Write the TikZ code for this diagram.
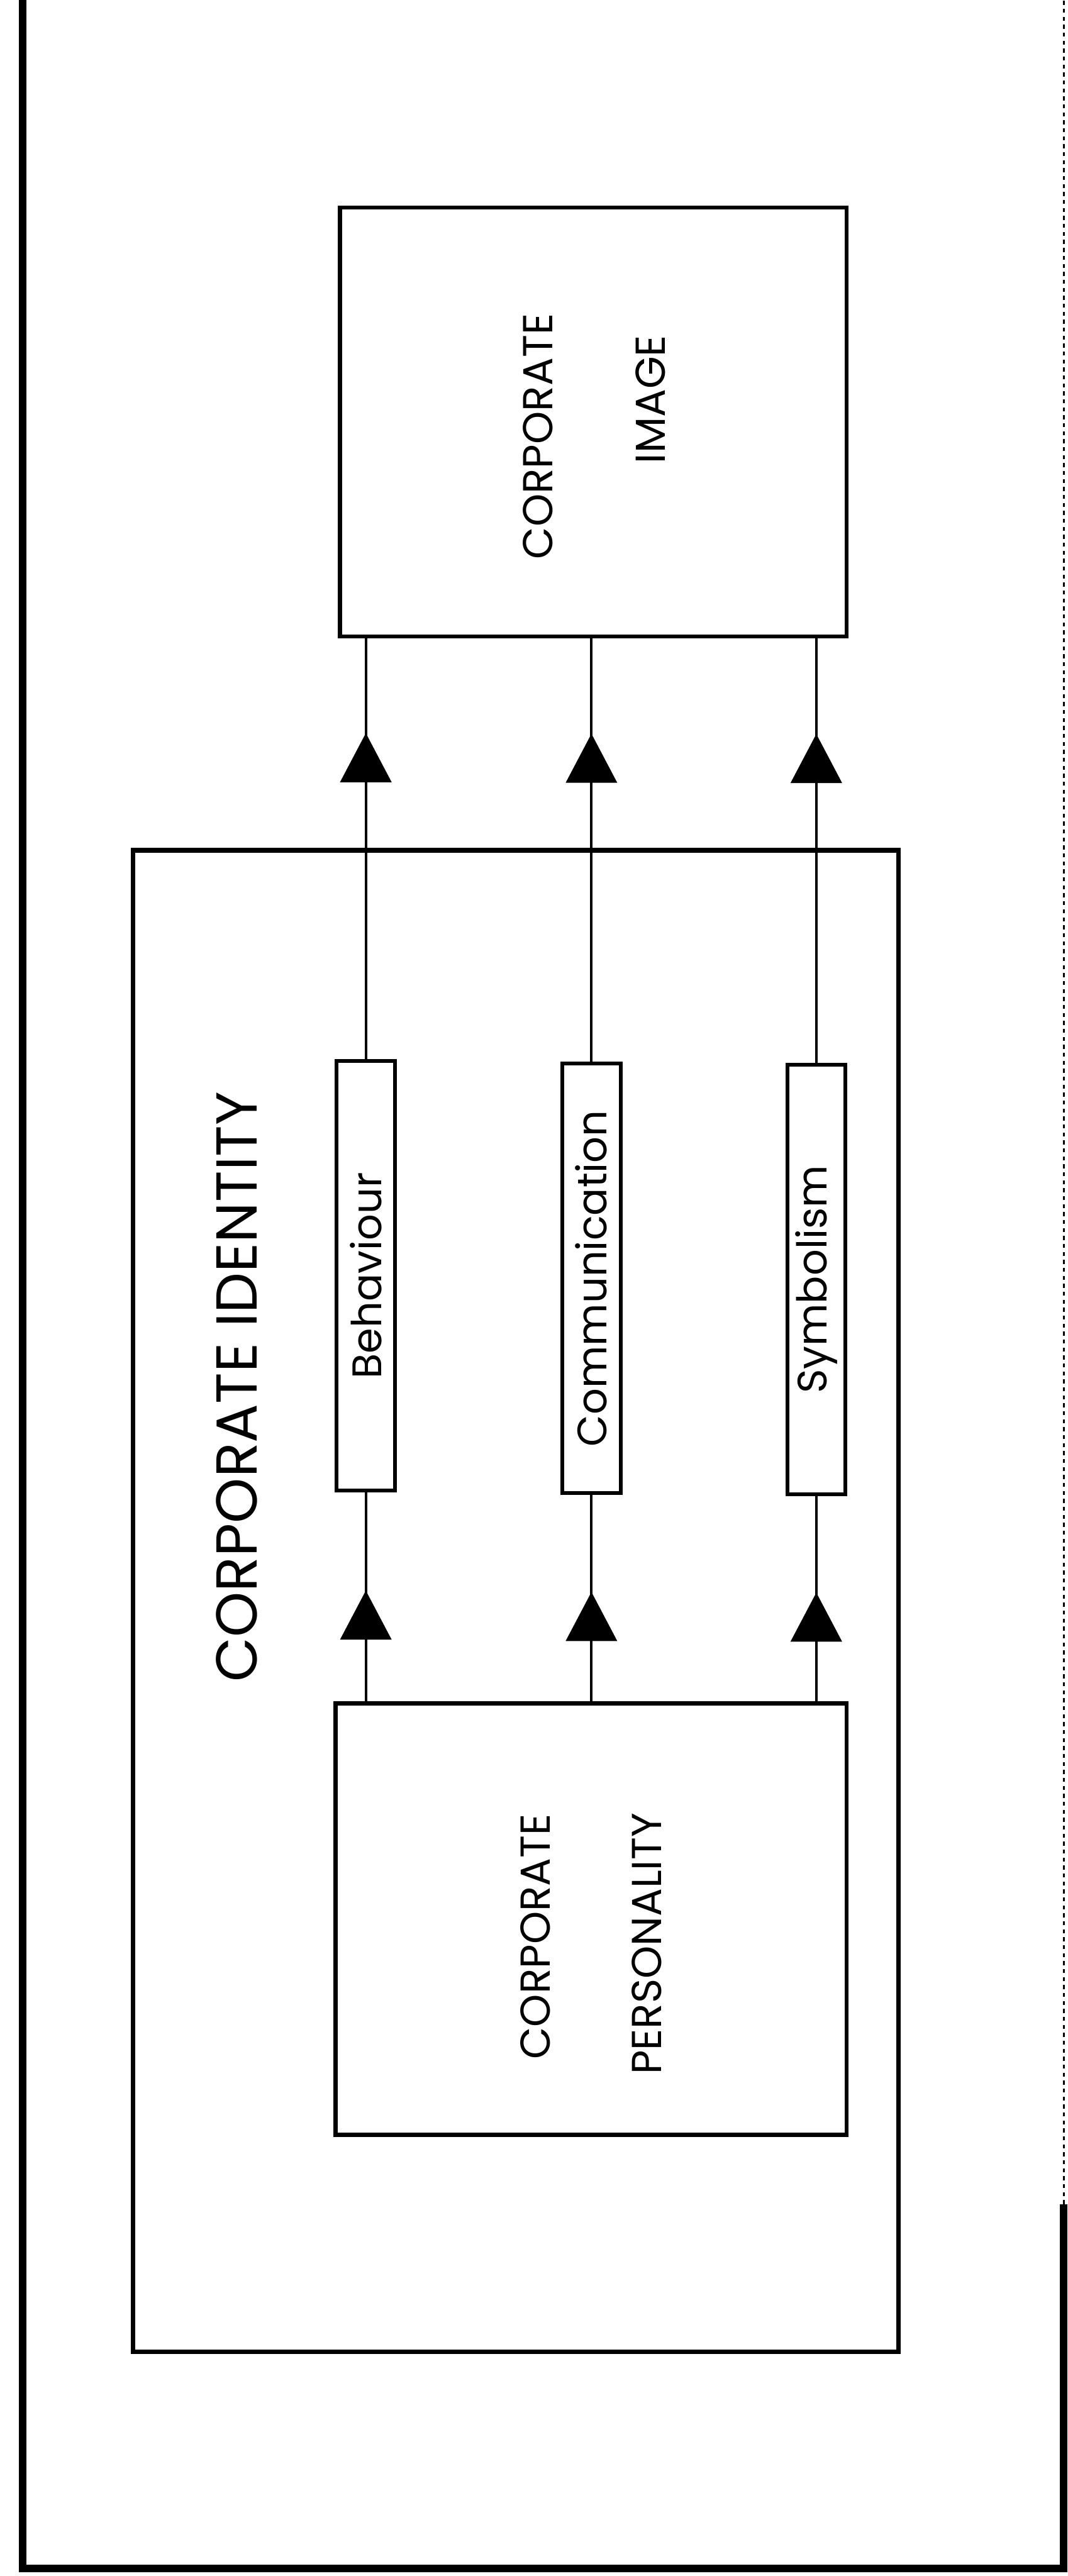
\documentclass[tikz,border=0pt]{standalone}
\usepackage{fontspec}
\setmainfont{Poppins}
\usetikzlibrary{arrows.meta, decorations.markings}
\tikzstyle{frame}=[line width=5.7pt]
\tikzstyle{outer}=[draw, line width=3.4pt, minimum width=20.26cm, minimum height=39.74cm]
\tikzstyle{block}=[draw, line width=3.1pt, minimum width=13.4cm, minimum height=11.35cm]
\tikzstyle{facet}=[draw, line width=2.8pt, rotate=90, minimum width=11.36cm, minimum height=1.54cm, inner sep=0pt, font=\fontsize{31}{37}\selectfont]
\tikzstyle{caption}=[rotate=90, font=\fontsize{31.5}{37}\selectfont]
\tikzstyle{title}=[rotate=90, font=\fontsize{43.5}{50}\selectfont]
\tikzset{flow/.style={line width=2pt, postaction={decorate}, decoration={markings, mark=at position #1 with {\arrow{Triangle[length=1.3cm, width=1.35cm]}}}}}

\begin{document}
\begin{tikzpicture}
	\useasboundingbox (0,0) rectangle (28.25,-68.17);
	% Page frame
	\draw[frame] (0.6,0) -- (0.6,-67.97) -- (28.15,-67.97) -- (28.15,-58.33);
	\draw[line width=1.5pt, dashed] (28.15,-58.33) -- (28.15,0);

	% Corporate identity
	\node[outer] (ident) at (13.65,-42.37) {};
	\node[title] (identlbl) at (6.27,-36.70) {CORPORATE IDENTITY};

	% Image and personality
	\node[block] (img) at (15.70,-11.165) {};
	\node[caption] (imgA) at (14.23,-11.55) {CORPORATE};
	\node[caption] (imgB) at (17.21,-10.57) {IMAGE};
	\node[block, minimum width=13.52cm, minimum height=11.41cm] (pers) at (15.64,-50.785) {};
	\node[caption] (persA) at (14.16,-51.25) {CORPORATE};
	\node[caption] (persB) at (17.12,-51.44) {PERSONALITY};

	% Identity mix
	\node[facet] (beh) at (9.68,-33.76) {Behaviour};
	\node[facet] (comm) at (15.65,-33.83) {Communication};
	\node[facet] (symb) at (21.60,-33.86) {\raisebox{0pt}{Symbolism}};

	\foreach \m in {beh, comm, symb}{
		\draw[flow=0.53] (pers.north -| \m) -- (\m.west);
		\draw[flow=0.775] (\m.east) -- (\m.east |- img.south);
	}
\end{tikzpicture}
\end{document}
